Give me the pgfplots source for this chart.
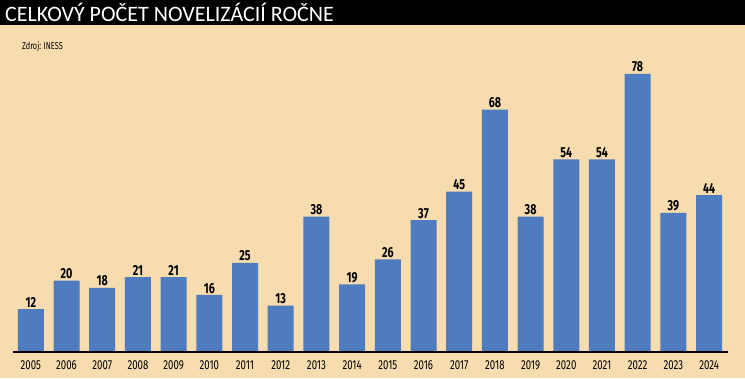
\documentclass[border=0pt]{standalone}
\usepackage{fontspec}
\setmainfont{Fira Sans}
\newfontfamily\cond[FakeStretch=0.74]{Fira Sans}
\newfontfamily\titlefont{Carlito}
\usepackage{pgfplots}
\pgfplotsset{compat=1.18}
\definecolor{bg}{RGB}{247,220,176}
\definecolor{barblue}{RGB}{79,124,190}
\begin{document}
\begin{tikzpicture}[x=1pt,y=1pt]
\fill[bg] (0,0) rectangle (745,378);
\fill[black] (0,353) rectangle (745,378);
\node[anchor=west,white,inner sep=0pt,font=\titlefont\fontsize{22}{22}\selectfont] at (5,366) {CELKOVÝ POČET NOVELIZÁCIÍ ROČNE};
\node[anchor=west,inner sep=0pt,font=\cond\fontsize{10}{10}\selectfont] at (22,331) {Zdroj: INESS};
\begin{axis}[
  at={(13pt,26pt)}, anchor=south west,
  scale only axis, width=715pt, height=312pt,
  xmin=-0.5, xmax=19.53, ymin=0, ymax=87.5,
  axis x line=bottom, axis y line=none,
  axis line style={-, line width=1.4pt, black},
  axis on top,
  /pgf/number format/assume math mode=true,
  xtick={0,...,19},
  xticklabels={2005,2006,2007,2008,2009,2010,2011,2012,2013,2014,2015,2016,2017,2018,2019,2020,2021,2022,2023,2024},
  major tick length=0pt,
  x tick label style={font=\cond\fontsize{13}{13}\selectfont, yshift=-5pt},
  ybar, bar width=26pt,
  nodes near coords={\pgfmathprintnumber[assume math mode=true]{\pgfplotspointmeta}},
  every node near coord/.append style={font=\cond\bfseries\fontsize{14.5}{14.5}\selectfont, inner sep=1.5pt, black},
  clip=false,
]
\addplot[fill=barblue, draw=none] coordinates {
(0,12) (1,20) (2,18) (3,21) (4,21) (5,16) (6,25) (7,13) (8,38) (9,19)
(10,26) (11,37) (12,45) (13,68) (14,38) (15,54) (16,54) (17,78) (18,39) (19,44)};
\end{axis}
\pgfresetboundingbox
\path[use as bounding box] (0,0) rectangle (745,378);
\end{tikzpicture}
\end{document}
